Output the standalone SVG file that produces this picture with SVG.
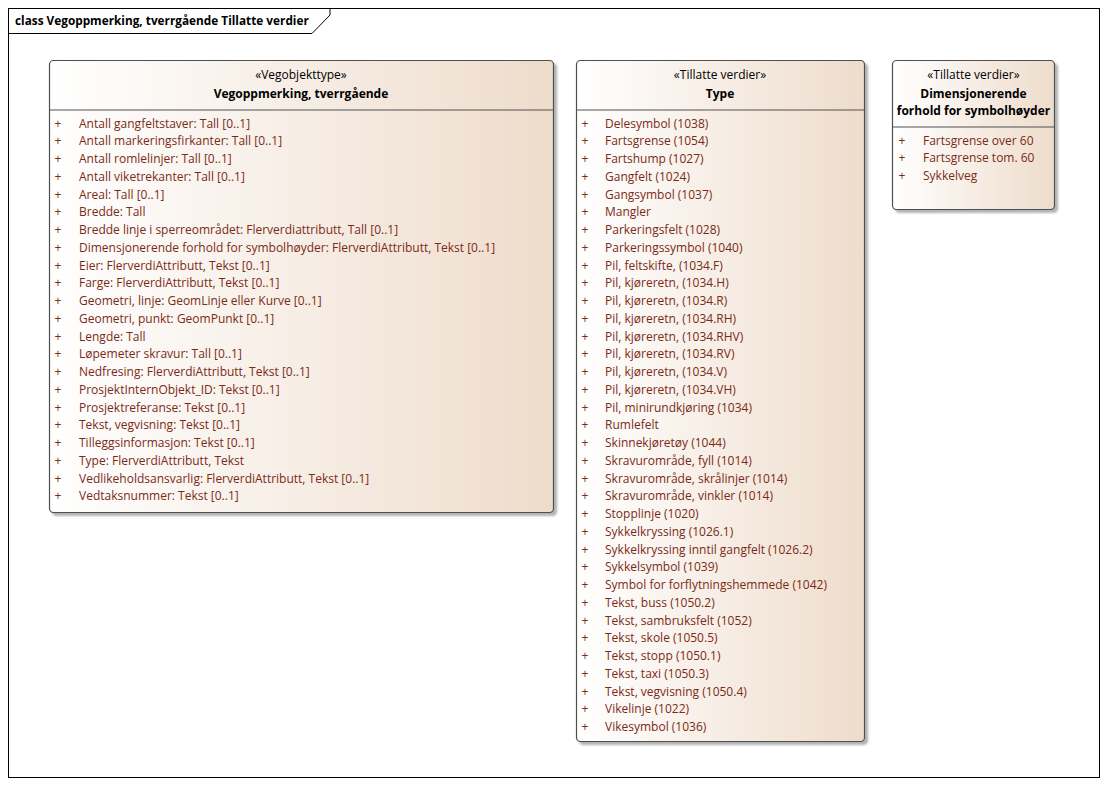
<svg xmlns="http://www.w3.org/2000/svg" width="1107" height="786" viewBox="0 0 1107 786">
<defs>
<linearGradient id="fill" x1="0" y1="0" x2="1" y2="0">
<stop offset="0" stop-color="#FFFFFF"/>
<stop offset="1" stop-color="#EEDCCB"/>
</linearGradient>
<filter id="shadow" x="-5%" y="-5%" width="115%" height="115%">
<feGaussianBlur in="SourceAlpha" stdDeviation="1.2"/>
<feOffset dx="3" dy="3" result="b"/>
<feComponentTransfer><feFuncA type="linear" slope="0.3"/></feComponentTransfer>
<feMerge><feMergeNode/><feMergeNode in="SourceGraphic"/></feMerge>
</filter>
</defs>
<style>
text{font-family:"Open Sans","Liberation Sans",Arial,sans-serif;font-size:12px}
.box{fill:url(#fill);stroke:#505050;stroke-width:1.2}
.div{stroke:#505050;stroke-width:1}
.st{fill:#000;text-anchor:middle}
.nm{fill:#000;text-anchor:middle;font-weight:bold;font-size:12px}
.at{fill:#7B2A16}
.pl{fill:#7B2A16;text-anchor:middle}
.frame{fill:#FFFFFF;stroke:#000;stroke-width:1}
.title{fill:#000;font-weight:bold;font-size:11.8px}
</style>
<rect width="1107" height="786" fill="#FFFFFF"/>
<g id="frame">
<rect class="frame" x="8.5" y="8.5" width="1091" height="769"/>
<path d="M8.5 33.5 H312 L330 15 V8.5" fill="none" stroke="#000" stroke-width="1"/>
<text class="title" x="15" y="25">class Vegoppmerking, tverrgående Tillatte verdier</text>
</g>
<g id="connectors"/>
<g id="node-vegoppmerking">
<rect class="box" x="49.5" y="60.5" width="504" height="452" rx="4" filter="url(#shadow)"/>
<line class="div" x1="49.5" y1="110" x2="553.5" y2="110"/>
<text class="st" x="301" y="79">«Vegobjekttype»</text>
<text class="nm" x="301" y="97.5">Vegoppmerking, tverrgående</text>
<g class="rows">
<text class="pl" x="58" y="127.5">+</text><text class="at" x="79" y="127.5">Antall gangfeltstaver: Tall [0..1]</text>
<text class="pl" x="58" y="145.25">+</text><text class="at" x="79" y="145.25">Antall markeringsfirkanter: Tall [0..1]</text>
<text class="pl" x="58" y="163">+</text><text class="at" x="79" y="163">Antall romlelinjer: Tall [0..1]</text>
<text class="pl" x="58" y="180.75">+</text><text class="at" x="79" y="180.75">Antall viketrekanter: Tall [0..1]</text>
<text class="pl" x="58" y="198.5">+</text><text class="at" x="79" y="198.5">Areal: Tall [0..1]</text>
<text class="pl" x="58" y="216.25">+</text><text class="at" x="79" y="216.25">Bredde: Tall</text>
<text class="pl" x="58" y="234">+</text><text class="at" x="79" y="234">Bredde linje i sperreområdet: Flerverdiattributt, Tall [0..1]</text>
<text class="pl" x="58" y="251.75">+</text><text class="at" x="79" y="251.75">Dimensjonerende forhold for symbolhøyder: FlerverdiAttributt, Tekst [0..1]</text>
<text class="pl" x="58" y="269.5">+</text><text class="at" x="79" y="269.5">Eier: FlerverdiAttributt, Tekst [0..1]</text>
<text class="pl" x="58" y="287.25">+</text><text class="at" x="79" y="287.25">Farge: FlerverdiAttributt, Tekst [0..1]</text>
<text class="pl" x="58" y="305">+</text><text class="at" x="79" y="305">Geometri, linje: GeomLinje eller Kurve [0..1]</text>
<text class="pl" x="58" y="322.75">+</text><text class="at" x="79" y="322.75">Geometri, punkt: GeomPunkt [0..1]</text>
<text class="pl" x="58" y="340.5">+</text><text class="at" x="79" y="340.5">Lengde: Tall</text>
<text class="pl" x="58" y="358.25">+</text><text class="at" x="79" y="358.25">Løpemeter skravur: Tall [0..1]</text>
<text class="pl" x="58" y="376">+</text><text class="at" x="79" y="376">Nedfresing: FlerverdiAttributt, Tekst [0..1]</text>
<text class="pl" x="58" y="393.75">+</text><text class="at" x="79" y="393.75">ProsjektInternObjekt_ID: Tekst [0..1]</text>
<text class="pl" x="58" y="411.5">+</text><text class="at" x="79" y="411.5">Prosjektreferanse: Tekst [0..1]</text>
<text class="pl" x="58" y="429.25">+</text><text class="at" x="79" y="429.25">Tekst, vegvisning: Tekst [0..1]</text>
<text class="pl" x="58" y="447">+</text><text class="at" x="79" y="447">Tilleggsinformasjon: Tekst [0..1]</text>
<text class="pl" x="58" y="464.75">+</text><text class="at" x="79" y="464.75">Type: FlerverdiAttributt, Tekst</text>
<text class="pl" x="58" y="482.5">+</text><text class="at" x="79" y="482.5">Vedlikeholdsansvarlig: FlerverdiAttributt, Tekst [0..1]</text>
<text class="pl" x="58" y="500.25">+</text><text class="at" x="79" y="500.25">Vedtaksnummer: Tekst [0..1]</text>
</g>
</g>
<g id="node-type">
<rect class="box" x="576.5" y="60.5" width="288" height="681" rx="4" filter="url(#shadow)"/>
<line class="div" x1="576.5" y1="110" x2="864.5" y2="110"/>
<text class="st" x="720" y="79">«Tillatte verdier»</text>
<text class="nm" x="720" y="97.5">Type</text>
<g class="rows">
<text class="pl" x="585" y="127.5">+</text><text class="at" x="605" y="127.5">Delesymbol (1038)</text>
<text class="pl" x="585" y="145.25">+</text><text class="at" x="605" y="145.25">Fartsgrense (1054)</text>
<text class="pl" x="585" y="163">+</text><text class="at" x="605" y="163">Fartshump (1027)</text>
<text class="pl" x="585" y="180.75">+</text><text class="at" x="605" y="180.75">Gangfelt (1024)</text>
<text class="pl" x="585" y="198.5">+</text><text class="at" x="605" y="198.5">Gangsymbol (1037)</text>
<text class="pl" x="585" y="216.25">+</text><text class="at" x="605" y="216.25">Mangler</text>
<text class="pl" x="585" y="234">+</text><text class="at" x="605" y="234">Parkeringsfelt (1028)</text>
<text class="pl" x="585" y="251.75">+</text><text class="at" x="605" y="251.75">Parkeringssymbol (1040)</text>
<text class="pl" x="585" y="269.5">+</text><text class="at" x="605" y="269.5">Pil, feltskifte, (1034.F)</text>
<text class="pl" x="585" y="287.25">+</text><text class="at" x="605" y="287.25">Pil, kjøreretn, (1034.H)</text>
<text class="pl" x="585" y="305">+</text><text class="at" x="605" y="305">Pil, kjøreretn, (1034.R)</text>
<text class="pl" x="585" y="322.75">+</text><text class="at" x="605" y="322.75">Pil, kjøreretn, (1034.RH)</text>
<text class="pl" x="585" y="340.5">+</text><text class="at" x="605" y="340.5">Pil, kjøreretn, (1034.RHV)</text>
<text class="pl" x="585" y="358.25">+</text><text class="at" x="605" y="358.25">Pil, kjøreretn, (1034.RV)</text>
<text class="pl" x="585" y="376">+</text><text class="at" x="605" y="376">Pil, kjøreretn, (1034.V)</text>
<text class="pl" x="585" y="393.75">+</text><text class="at" x="605" y="393.75">Pil, kjøreretn, (1034.VH)</text>
<text class="pl" x="585" y="411.5">+</text><text class="at" x="605" y="411.5">Pil, minirundkjøring (1034)</text>
<text class="pl" x="585" y="429.25">+</text><text class="at" x="605" y="429.25">Rumlefelt</text>
<text class="pl" x="585" y="447">+</text><text class="at" x="605" y="447">Skinnekjøretøy (1044)</text>
<text class="pl" x="585" y="464.75">+</text><text class="at" x="605" y="464.75">Skravurområde, fyll (1014)</text>
<text class="pl" x="585" y="482.5">+</text><text class="at" x="605" y="482.5">Skravurområde, skrålinjer (1014)</text>
<text class="pl" x="585" y="500.25">+</text><text class="at" x="605" y="500.25">Skravurområde, vinkler (1014)</text>
<text class="pl" x="585" y="518">+</text><text class="at" x="605" y="518">Stopplinje (1020)</text>
<text class="pl" x="585" y="535.75">+</text><text class="at" x="605" y="535.75">Sykkelkryssing (1026.1)</text>
<text class="pl" x="585" y="553.5">+</text><text class="at" x="605" y="553.5">Sykkelkryssing inntil gangfelt (1026.2)</text>
<text class="pl" x="585" y="571.25">+</text><text class="at" x="605" y="571.25">Sykkelsymbol (1039)</text>
<text class="pl" x="585" y="589">+</text><text class="at" x="605" y="589">Symbol for forflytningshemmede (1042)</text>
<text class="pl" x="585" y="606.75">+</text><text class="at" x="605" y="606.75">Tekst, buss (1050.2)</text>
<text class="pl" x="585" y="624.5">+</text><text class="at" x="605" y="624.5">Tekst, sambruksfelt (1052)</text>
<text class="pl" x="585" y="642.25">+</text><text class="at" x="605" y="642.25">Tekst, skole (1050.5)</text>
<text class="pl" x="585" y="660">+</text><text class="at" x="605" y="660">Tekst, stopp (1050.1)</text>
<text class="pl" x="585" y="677.75">+</text><text class="at" x="605" y="677.75">Tekst, taxi (1050.3)</text>
<text class="pl" x="585" y="695.5">+</text><text class="at" x="605" y="695.5">Tekst, vegvisning (1050.4)</text>
<text class="pl" x="585" y="713.25">+</text><text class="at" x="605" y="713.25">Vikelinje (1022)</text>
<text class="pl" x="585" y="731">+</text><text class="at" x="605" y="731">Vikesymbol (1036)</text>
</g>
</g>
<g id="node-dimensjonerende">
<rect class="box" x="892.5" y="60.5" width="162" height="149" rx="4" filter="url(#shadow)"/>
<line class="div" x1="892.5" y1="127" x2="1054.5" y2="127"/>
<text class="st" x="973.5" y="79">«Tillatte verdier»</text>
<text class="nm" x="973.5" y="97.5">Dimensjonerende</text>
<text class="nm" x="973.5" y="115">forhold for symbolhøyder</text>
<g class="rows">
<text class="pl" x="902" y="144.5">+</text><text class="at" x="923" y="144.5">Fartsgrense over 60</text>
<text class="pl" x="902" y="162.25">+</text><text class="at" x="923" y="162.25">Fartsgrense tom. 60</text>
<text class="pl" x="902" y="180">+</text><text class="at" x="923" y="180">Sykkelveg</text>
</g>
</g>
</svg>
